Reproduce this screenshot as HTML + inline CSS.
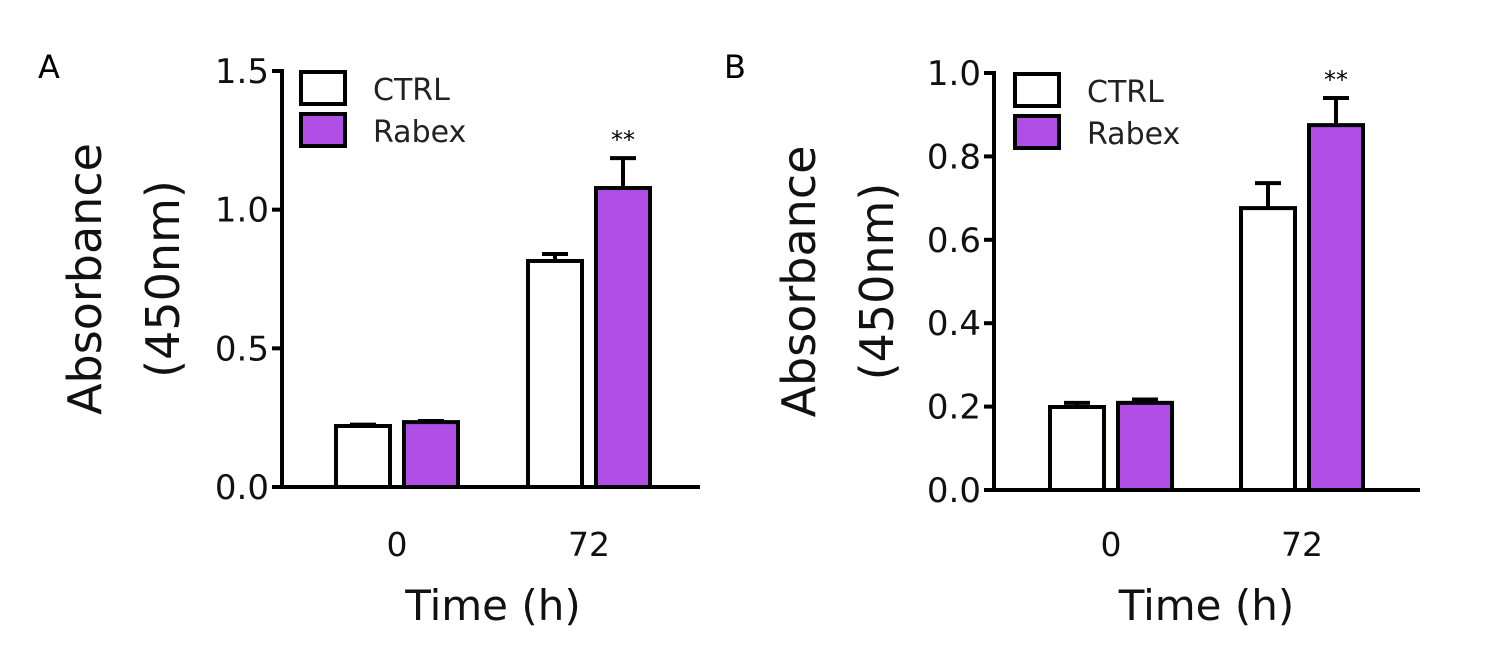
<!DOCTYPE html>
<html><head><meta charset="utf-8"><style>
body{margin:0;background:#fff;}
svg{display:block;font-family:"DejaVu Sans","Liberation Sans",sans-serif;}
</style></head><body>
<svg id="c" width="1487" height="665" viewBox="0 0 1487 665"></svg>
<script>
const groups = ["0","72"];
const ctrlA = [0.22, 0.815];
const ctrlErrA = [0.005, 0.025];
const rabA = [0.234, 1.078];
const rabErrA = [0.004, 0.108];
const ticksA = [0.0, 0.5, 1.0, 1.5];
const ctrlB = [0.199, 0.676];
const ctrlErrB = [0.01, 0.06];
const rabB = [0.209, 0.875];
const rabErrB = [0.008, 0.065];
const ticksB = [0.0, 0.2, 0.4, 0.6, 0.8, 1.0];
const sigA = ["", "**"];
const sigB = ["", "**"];

const NS = "http://www.w3.org/2000/svg";
const svg = document.getElementById('c');
function mk(tag, attrs, parent, text){
  const e = document.createElementNS(NS, tag);
  for (const k in attrs) e.setAttribute(k, attrs[k]);
  if (text !== undefined) e.textContent = text;
  (parent||svg).appendChild(e);
  return e;
}
const PURPLE = "#b04ee6";

function panel(cfg){
  const g = mk('g', {});
  
  
  const y = v => cfg.y0 - (v / cfg.max) * (cfg.y0 - cfg.yTop);
  const L = mk('text', {x: cfg.letterX, y: 78, 'font-size': 32}, g, cfg.letter);
  
  
  const ya = mk('line', {x1: cfg.ax, y1: y(cfg.max) - 2, x2: cfg.ax, y2: cfg.y0 + 2, stroke: '#000', 'stroke-width': 4}, g);
  
  
  cfg.ticks.forEach(t => {
    const tl = mk('line', {x1: cfg.ax - 10, y1: y(t), x2: cfg.ax, y2: y(t), stroke: '#000', 'stroke-width': 4}, g);
    
    
    const tx = mk('text', {x: cfg.ax - 13, y: y(t) + 12, 'font-size': 34, 'text-anchor': 'end', fill: '#111'}, g, t.toFixed(1));
    
    
  });
  const xa = mk('line', {x1: cfg.ax - 10, y1: cfg.y0, x2: cfg.xEnd, y2: cfg.y0, stroke: '#000', 'stroke-width': 4}, g);
  
  
  const yt = mk('text', {transform: `translate(${cfg.ytX},${(cfg.y0 + cfg.yTop)/2}) rotate(-90)`, 'font-size': 46, 'text-anchor': 'middle', fill: '#111'}, g);
  
  
  mk('tspan', {x: 0, dy: 0}, yt, 'Absorbance');
  mk('tspan', {x: 0, dy: 78}, yt, '(450nm)');
  const bw = 54;
  cfg.groups.forEach((grp, i) => {
    const gx = cfg.gx[i];
    [[cfg.ctrl, cfg.ctrlErr, '#fff', gx - bw - 7, 'bar-ctrl-'], [cfg.rab, cfg.rabErr, PURPLE, gx + 7, 'bar-rabex-']].forEach(([vals, errs, fill, bx, nm]) => {
      const top = y(vals[i]), et = y(vals[i] + errs[i]);
      const cx = bx + bw/2;
      const el = mk('line', {x1: cx, y1: top, x2: cx, y2: et, stroke: '#000', 'stroke-width': 4}, g);
      
      
      const ec = mk('line', {x1: cx - 13, y1: et, x2: cx + 13, y2: et, stroke: '#000', 'stroke-width': 4}, g);
      
      
      const r = mk('rect', {x: bx, y: top, width: bw, height: cfg.y0 - top, fill: fill, stroke: '#000', 'stroke-width': 4}, g);
      
      
    });
    if (cfg.sig[i]) {
      const s = mk('text', {x: gx + 7 + bw/2, y: y(cfg.rab[i] + cfg.rabErr[i]) - 10, 'font-size': 24, 'text-anchor': 'middle'}, g, cfg.sig[i]);
      
      
    }
    const xl = mk('text', {x: gx, y: 556, 'font-size': 33, 'text-anchor': 'middle', fill: '#111'}, g, grp);
    
    
  });
  const xt = mk('text', {x: (cfg.gx[0] + cfg.gx[1])/2, y: 620, 'font-size': 42, 'text-anchor': 'middle', fill: '#111'}, g, 'Time (h)');
  
  
  [['CTRL', '#fff'], ['Rabex', PURPLE]].forEach(([lab, fill], k) => {
    const ly = cfg.legY + k * 42;
    const lr = mk('rect', {x: cfg.legX, y: ly, width: 44, height: 32, fill: fill, stroke: '#000', 'stroke-width': 4}, g);
    
    
    const lt = mk('text', {x: cfg.legX + 72, y: ly + 28, 'font-size': 30, fill: '#222'}, g, lab);
    
    
  });
}
panel({id:'panel-a', letter:'A', letterX:38, ax:282, y0:487, yTop:71, max:1.5, xEnd:700, ticks:ticksA,
  ctrl:ctrlA, ctrlErr:ctrlErrA, rab:rabA, rabErr:rabErrA, sig:sigA, groups:groups, gx:[397,589],
  ytX:101, legX:301, legY:72});
panel({id:'panel-b', letter:'B', letterX:724, ax:994, y0:490, yTop:73, max:1.0, xEnd:1420, ticks:ticksB,
  ctrl:ctrlB, ctrlErr:ctrlErrB, rab:rabB, rabErr:rabErrB, sig:sigB, groups:groups, gx:[1111,1302],
  ytX:815, legX:1015, legY:74});
</script>
</body></html>
